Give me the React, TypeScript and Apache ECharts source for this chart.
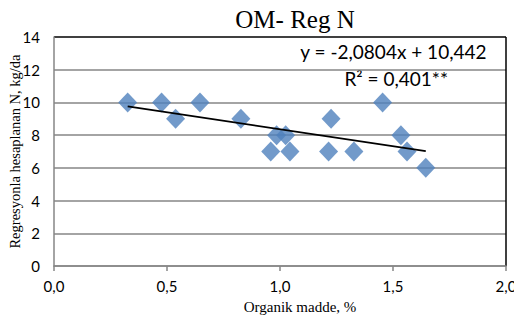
import React, { useEffect, useRef } from "react";
import * as echarts from "echarts";

const omValues = [0.326, 0.476, 0.538, 0.646, 0.827, 0.959, 0.985, 1.025, 1.044, 1.215, 1.226, 1.327, 1.454, 1.535, 1.562, 1.645];
const regNValues = [10, 10, 9, 10, 9, 7, 8, 8, 7, 7, 9, 7, 10, 8, 7, 6];
const slope = -2.0804;
const intercept = 10.442;
const trendXs = [0.326, 1.645];
const equationText = "y = -2,0804x + 10,442";
const r2Text = "R² = 0,401**";
const titleText = "OM- Reg N";
const yTitle = "Regresyonla hesaplanan N, kg/da";
const xTitle = "Organik madde, %";

const fmt1 = (v: number) => v.toFixed(1).replace(".", ",");

export default function App() {
  const ref = useRef<HTMLDivElement>(null);
  useEffect(() => {
    if (!ref.current) return;
    const chart = echarts.init(ref.current, undefined, { renderer: "svg" });
    const gray = "#868686";
    chart.setOption({
      animation: false,
      backgroundColor: "#fff",
      title: {
        text: titleText,
        left: 290,
        textAlign: "center",
        top: 2,
        textStyle: { fontFamily: "Liberation Serif", fontSize: 25, fontWeight: "normal", color: "#000" },
      },
      grid: { left: 54, right: 8, top: 37, bottom: 54, containLabel: false, outerBoundsMode: "none" },
      xAxis: {
        type: "value",
        min: 0,
        max: 2,
        interval: 0.5,
        name: xTitle,
        nameLocation: "middle",
        nameGap: 33,
        nameMoveOverlap: false,
        nameTextStyle: { fontFamily: "Liberation Serif", fontSize: 15, color: "#000", padding: [0, 0, 0, 40] },
        axisLine: { lineStyle: { color: gray, width: 1.5 } },
        axisTick: { show: true, length: 5, lineStyle: { color: gray, width: 1.5 } },
        axisLabel: { formatter: fmt1, fontFamily: "Lato", fontSize: 15, color: "#000", margin: 12 },
        splitLine: { show: true, lineStyle: { color: ["transparent", "transparent", "transparent", "transparent", "#000"], width: 1.5 } },
      },
      yAxis: {
        type: "value",
        min: 0,
        max: 14,
        interval: 2,
        name: yTitle,
        nameLocation: "middle",
        nameGap: 32,
        nameMoveOverlap: false,
        nameTextStyle: { fontFamily: "Liberation Serif", fontSize: 14.5, color: "#000" },
        axisLine: { show: true, lineStyle: { color: gray, width: 1.5 } },
        axisTick: { show: false },
        axisLabel: { fontFamily: "Lato", fontSize: 15, color: "#000", margin: 14 },
        splitLine: { show: true, lineStyle: { color: [gray, gray, gray, gray, gray, gray, gray, "#000"], width: 1.5 } },
      },
      series: [
        {
          type: "scatter",
          symbol: "diamond",
          symbolSize: [19, 20],
          itemStyle: { color: "#4F81BD" },
          data: omValues.map((x, i) => [x, regNValues[i]]),
          z: 2,
        },
        {
          type: "line",
          symbol: "none",
          lineStyle: { color: "#000", width: 1.8 },
          data: trendXs.map((x) => [x, slope * x + intercept]),
          z: 3,
        },
      ],
      graphic: [
        {
          type: "text",
          right: 27,
          top: 42,
          style: { text: equationText, fontFamily: "Lato", fontSize: 19, fill: "#000" },
        },
        {
          type: "text",
          right: 66,
          top: 69,
          style: { text: r2Text, fontFamily: "Lato", fontSize: 19, fill: "#000" },
        },
      ],
    });
    return () => chart.dispose();
  }, []);
  return <div ref={ref} style={{ width: 514, height: 320, position: "absolute", left: 0, top: 0 }} />;
}
